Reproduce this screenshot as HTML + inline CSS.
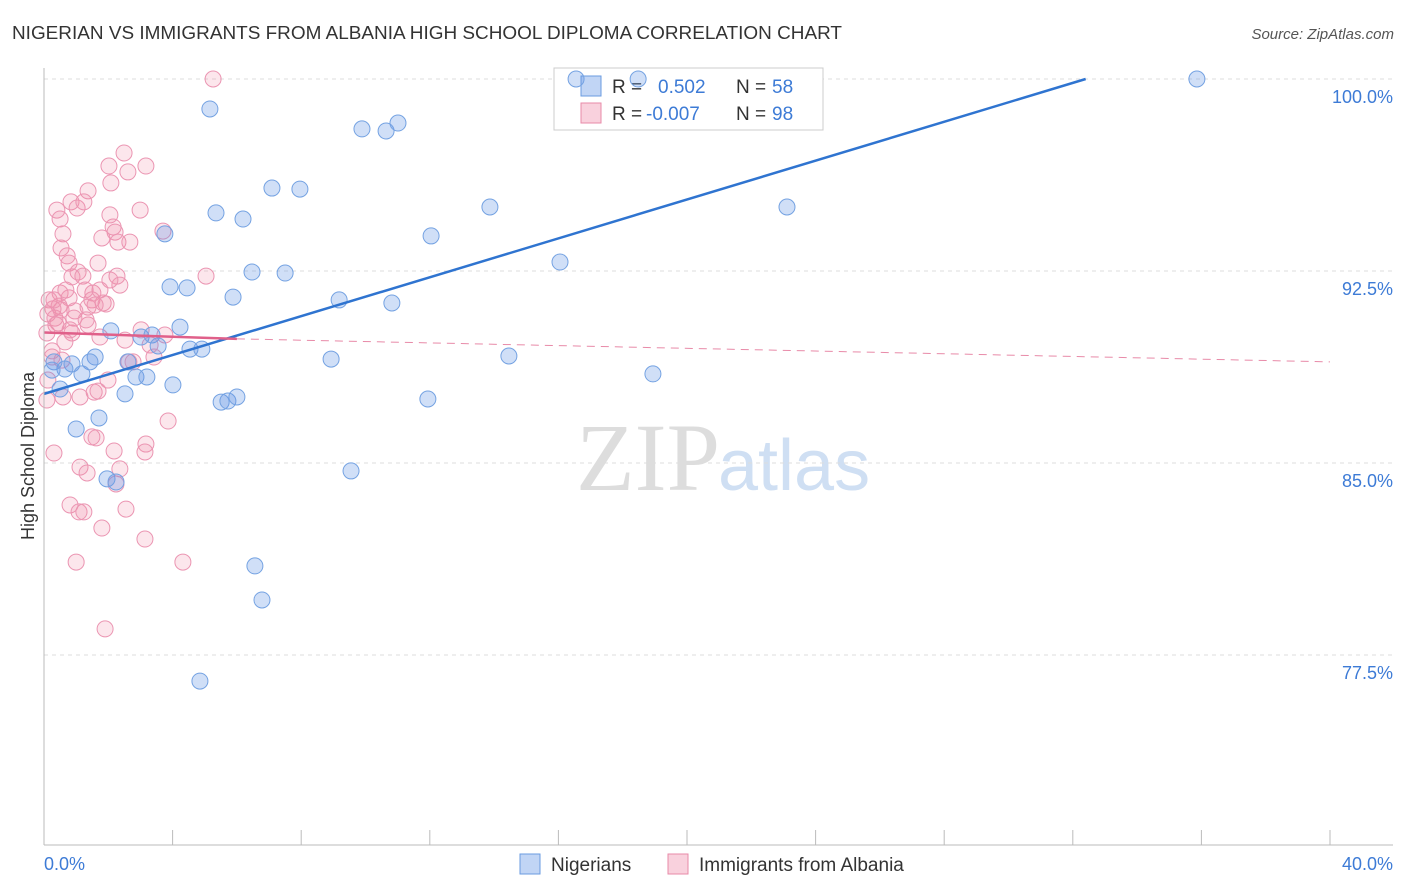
<!DOCTYPE html>
<html><head><meta charset="utf-8"><style>
body{margin:0;background:#fff;font-family:"Liberation Sans",sans-serif;}
svg{display:block}
</style></head><body>
<svg id="c" width="1406" height="892">
<text x="12" y="39" font-size="18" fill="#333" textLength="830" lengthAdjust="spacingAndGlyphs">NIGERIAN VS IMMIGRANTS FROM ALBANIA HIGH SCHOOL DIPLOMA CORRELATION CHART</text>
<text x="1394" y="39" font-size="15" fill="#555" font-style="italic" text-anchor="end">Source: ZipAtlas.com</text>
<text x="34" y="456" font-size="18" fill="#333" text-anchor="middle" transform="rotate(-90 34 456)">High School Diploma</text>
<text x="720" y="490" font-size="96" fill="#ddd" text-anchor="end" font-family="Liberation Serif,serif">ZIP</text>
<text x="718" y="490" font-size="72" fill="#cfdff3">atlas</text>
<g id="grid"></g>
<g>
<rect x="554" y="68" width="269" height="62" fill="#fff" stroke="#ccc"/>
<rect x="581" y="76" width="20" height="20" fill="rgba(100,150,230,0.4)" stroke="#6a9be0"/>
<rect x="581" y="103" width="20" height="20" fill="rgba(240,140,170,0.4)" stroke="#e88aa8"/>
<text x="612" y="93" font-size="19" fill="#333">R = </text><text x="658" y="93" font-size="19" fill="#3d7bd6">0.502</text>
<text x="736" y="93" font-size="19" fill="#333">N = </text><text x="772" y="93" font-size="19" fill="#3d7bd6">58</text>
<text x="612" y="120" font-size="19" fill="#333">R = </text><text x="646" y="120" font-size="19" fill="#3d7bd6">-0.007</text>
<text x="736" y="120" font-size="19" fill="#333">N = </text><text x="772" y="120" font-size="19" fill="#3d7bd6">98</text>
</g>
<g id="pts"></g><g id="trend"></g>
<line x1="44" y1="68" x2="44" y2="845" stroke="#bbb"/>
<line x1="44" y1="845" x2="1393" y2="845" stroke="#bbb"/>
<text x="44" y="870" font-size="18" fill="#3d7bd6">0.0%</text>
<text x="1393" y="870" font-size="18" fill="#3d7bd6" text-anchor="end">40.0%</text>
<g><rect x="520" y="854" width="20" height="20" fill="rgba(100,150,230,0.4)" stroke="#6a9be0"/><text x="551" y="871" font-size="19" fill="#333">Nigerians</text></g>
<g><rect x="668" y="854" width="20" height="20" fill="rgba(240,140,170,0.4)" stroke="#e88aa8"/><text x="699" y="871" font-size="19" fill="#333">Immigrants from Albania</text></g>
</svg>
<script>
const yTicks=[100,92.5,85,77.5];
const yTickLabels=["100.0%","92.5%","85.0%","77.5%"];
const xTicks=[0,4,8,12,16,20,24,28,32,36,40];
const bluePx=[[576,79],[638,79],[1197,79],[210,109],[362,129],[386,131],[398,123],[272,188],[300,189],[216,213],[243,219],[490,207],[787,207],[165,234],[431,236],[560,262],[252,272],[285,273],[170,287],[187,288],[233,297],[339,300],[392,303],[180,327],[111,331],[141,337],[152,335],[158,346],[190,349],[202,349],[128,362],[95,357],[90,362],[72,364],[65,369],[54,362],[52,370],[60,389],[82,374],[136,377],[147,377],[331,359],[509,356],[653,374],[173,385],[125,394],[221,402],[228,401],[237,397],[428,399],[99,418],[76,429],[351,471],[107,479],[116,482],[255,566],[262,600],[200,681]];
const pinkPx=[[213,79],[124,153],[109,166],[146,166],[128,172],[111,183],[88,191],[71,202],[57,210],[77,208],[84,202],[60,219],[63,234],[113,227],[115,232],[102,238],[118,242],[130,242],[163,231],[61,248],[67,256],[69,263],[98,263],[78,272],[72,277],[83,276],[117,276],[206,276],[120,285],[93,293],[60,293],[49,300],[69,298],[92,300],[103,303],[106,304],[88,307],[59,306],[53,309],[48,314],[55,318],[75,311],[74,318],[88,325],[58,323],[72,333],[141,330],[100,337],[47,333],[65,342],[52,351],[52,357],[129,362],[133,362],[154,357],[108,380],[48,380],[94,392],[98,391],[63,397],[80,397],[47,400],[168,421],[92,437],[96,438],[146,444],[114,451],[145,452],[54,453],[80,467],[87,473],[120,469],[116,484],[70,505],[79,512],[84,512],[126,509],[102,528],[145,539],[76,562],[183,562],[105,629],[110,280],[85,290],[66,290],[56,325],[110,215],[140,210],[100,290],[95,305],[61,310],[86,320],[54,300],[70,330],[125,340],[150,345],[165,335],[62,360]];
const blueX=bluePx.map(p=>+((p[0]-44)/1286*40).toFixed(2));
const blueY=bluePx.map(p=>+(100-(p[1]-79)/25.6).toFixed(2));
const pinkX=pinkPx.map(p=>+((p[0]-44)/1286*40).toFixed(2));
const pinkY=pinkPx.map(p=>+(100-(p[1]-79)/25.6).toFixed(2));
const blueTrend=[[0,87.7],[32.4,100]];
const pinkTrend=[[0,90.1],[6,89.85],[40,88.95]];
const sx=v=>44+v/40*1286, sy=v=>79+(100-v)*25.6;
const NS="http://www.w3.org/2000/svg";
function mk(t,a,p){const e=document.createElementNS(NS,t);for(const k in a)e.setAttribute(k,a[k]);p.appendChild(e);return e;}
const g=document.getElementById('grid');
yTicks.forEach((v,i)=>{
 const l=mk('line',{x1:44,x2:1393,y1:sy(v),y2:sy(v),stroke:'#ddd','stroke-dasharray':'4,4'},g);
 
 
 const t=mk('text',{x:1393,y:sy(v)+24,'font-size':18,fill:'#3d7bd6','text-anchor':'end'},g);
 t.textContent=yTickLabels[i];
 
 
});
xTicks.forEach(v=>{
 const l=mk('line',{x1:sx(v),x2:sx(v),y1:830,y2:845,stroke:'#bbb'},g);
 
 
});
const pg=document.getElementById('pts');
pinkX.forEach((x,i)=>{
 const c=mk('circle',{cx:sx(x),cy:sy(pinkY[i]),r:8,fill:'rgba(240,140,170,0.22)',stroke:'#eb95b2','stroke-width':1},pg);
 
 
});
blueX.forEach((x,i)=>{
 const c=mk('circle',{cx:sx(x),cy:sy(blueY[i]),r:8,fill:'rgba(100,150,230,0.3)',stroke:'#74a2e2','stroke-width':1},pg);
 
 
});
const tg=document.getElementById('trend');
let b=mk('line',{x1:sx(blueTrend[0][0]),y1:sy(blueTrend[0][1]),x2:sx(blueTrend[1][0]),y2:sy(blueTrend[1][1]),stroke:'#2f74d0','stroke-width':2.5},tg);


let p1=mk('line',{x1:sx(pinkTrend[0][0]),y1:sy(pinkTrend[0][1]),x2:sx(pinkTrend[1][0]),y2:sy(pinkTrend[1][1]),stroke:'#e0608a','stroke-width':2.5},tg);


let p2=mk('line',{x1:sx(pinkTrend[1][0]),y1:sy(pinkTrend[1][1]),x2:sx(pinkTrend[2][0]),y2:sy(pinkTrend[2][1]),stroke:'#e88aa8','stroke-width':1,'stroke-dasharray':'8,6'},tg);


</script>
</body></html>
